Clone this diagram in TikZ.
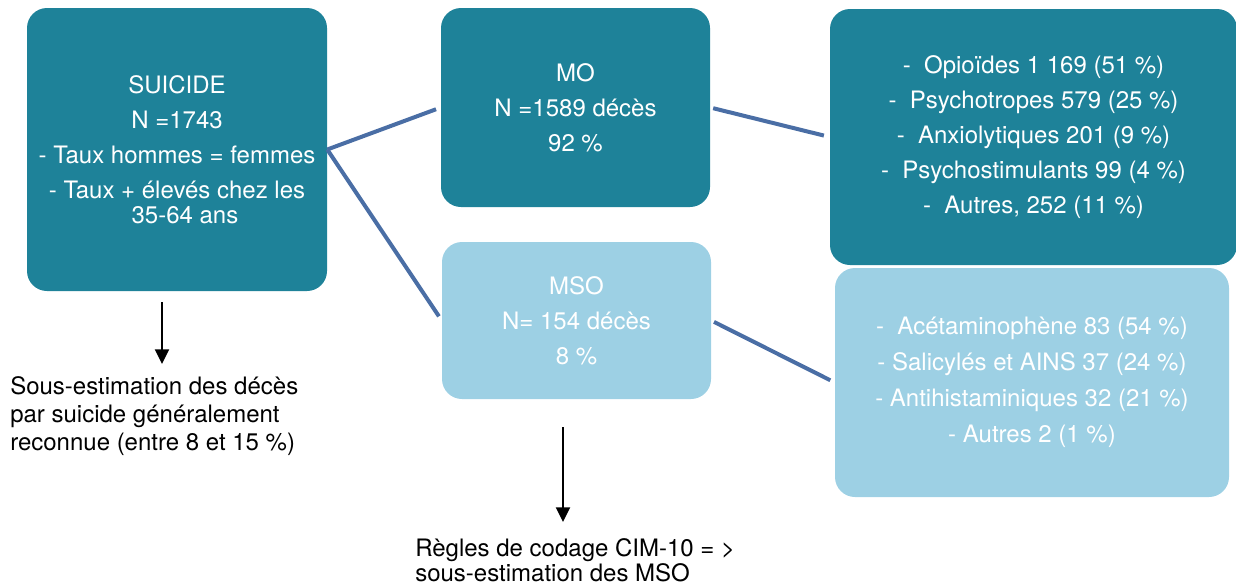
\documentclass[tikz,border=0pt]{standalone}
\usepackage{fontspec}
\setmainfont{TeX Gyre Heros}
\usetikzlibrary{arrows.meta}
\definecolor{boxdark}{RGB}{30,130,153}
\definecolor{boxlight}{RGB}{157,208,228}
\definecolor{linkcol}{RGB}{74,110,165}
\begin{document}
\begin{tikzpicture}[x=0.75pt,y=-0.75pt,
  box/.style={rounded corners=15pt, inner sep=0pt, align=center, text=white,
    font=\fontsize{18}{26.25}\selectfont},
  darkbox/.style={box, fill=boxdark},
  lightbox/.style={box, fill=boxlight},
  link/.style={draw=linkcol, line width=3pt},
  arr/.style={draw=black, line width=1.5pt, -{Triangle[width=10.5pt,length=11pt]}},
  note/.style={inner sep=0pt, align=left, text=black}]
\path[use as bounding box] (0,0) rectangle (1236,586);

\node[darkbox, minimum width=225pt, minimum height=212.25pt] (suicide) at (177,149.5)
  {SUICIDE\\N =1743\\- Taux hommes = femmes\\- Taux + élevés chez les\\[-7.5pt]\hspace*{12pt}35-64 ans};
\node[darkbox, minimum width=201.75pt, minimum height=149.25pt] (mo) at (575.5,107.5)
  {MO\\N =1589 décès\\92 \%};
\node[lightbox, minimum width=201.75pt, minimum height=117.75pt] (mso) at (576.5,320.5)
  {MSO\\N= 154 décès\\8 \%};
\node[darkbox, minimum width=305.25pt, minimum height=192pt] (mocat) at (1033.5,137)
  {-\ \ Opioïdes 1 169 (51 \%)\\-\ \ Psychotropes 579 (25 \%)\\-\ \ Anxiolytiques 201 (9 \%)\\-\ \ Psychostimulants 99 (4 \%)\\-\ \ Autres, 252 (11 \%)};
\node[lightbox, minimum width=295.5pt, minimum height=171.75pt,
  font=\fontsize{18}{27}\selectfont] (msocat) at (1032,382.5)
  {-\ \ Acétaminophène 83 (54 \%)\\- Salicylés et AINS 37 (24 \%)\\- Antihistaminiques 32 (21 \%)\\- Autres 2 (1 \%)};

\node[note, anchor=north west, font=\fontsize{18}{21}\selectfont] (note1) at (10,376)
  {Sous-estimation des décès\\par suicide généralement\\reconnue (entre 8 et 15 \%)};
\node[note, anchor=north west, font=\fontsize{18}{18.75}\selectfont] (note2) at (415,538.5)
  {Règles de codage CIM-10 = >\\sous-estimation des MSO};

\draw[link, shorten >=3.75pt] (suicide.east) -- (mo.west);
\draw[link, shorten >=3.75pt] (suicide.east) -- (mso.west);
\draw[link, shorten <=2.25pt, shorten >=4.5pt] (mo.east) -- (mocat.west);
\draw[link, shorten <=2.25pt, shorten >=3.75pt] (mso.east) -- (msocat.west);

\coordinate (a1s) at (162,302);
\coordinate (a1e) at (162,364);
\coordinate (a2s) at (563,427);
\coordinate (a2e) at (563,522);
\draw[arr] (a1s) -- (a1e);
\draw[arr] (a2s) -- (a2e);
\end{tikzpicture}
\end{document}
